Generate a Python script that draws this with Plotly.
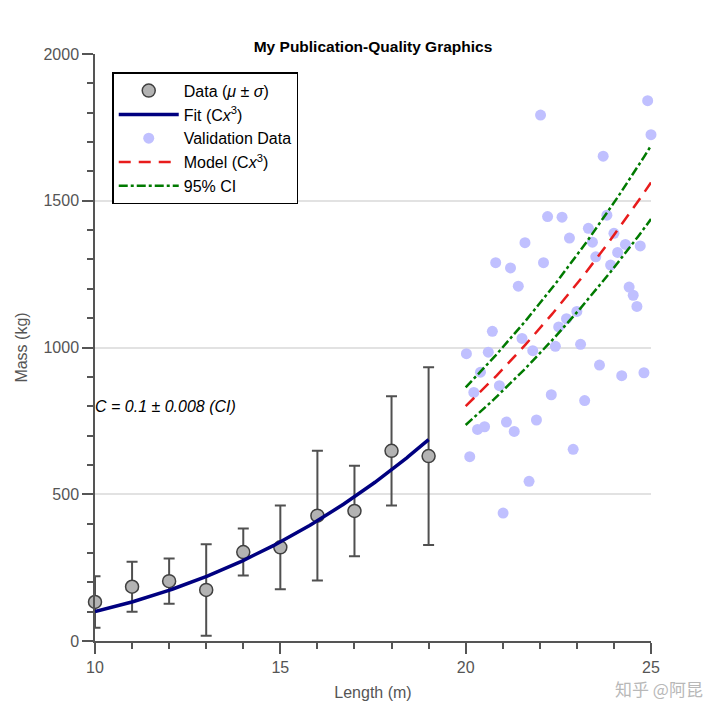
import numpy as np
import plotly.graph_objects as go

# ---- data ----
length_m = [10, 11, 12, 13, 14, 15, 16, 17, 18, 19]
mass_mean = [133, 185, 204, 174, 303, 319, 427, 443, 648, 630]
mass_sd = [88, 85, 77, 156, 80, 143, 221, 154, 186, 303]

C_fit = 0.1
C_ci = 0.008

val_x = [24.91, 22.02, 25.0, 23.71, 22.21, 22.6, 23.81, 23.31, 24.0, 22.80,
         21.60, 23.42, 24.31, 24.71, 24.10, 23.51, 20.81, 21.21, 22.10, 23.91,
         21.42, 24.41, 24.52, 24.62, 23.0, 22.72, 22.51, 20.72, 21.52, 21.81,
         22.42, 23.10, 20.02, 20.61, 23.61, 24.21, 24.81, 20.40, 20.22, 20.91,
         22.31, 23.21, 20.32, 20.51, 21.10, 21.91, 21.31, 22.90, 20.11, 21.71,
         21.01]
val_y = [1841, 1792, 1725, 1652, 1446, 1444, 1451, 1406, 1389, 1373,
         1357, 1359, 1351, 1346, 1324, 1309, 1289, 1271, 1289, 1281,
         1209, 1206, 1178, 1140, 1123, 1098, 1070, 1055, 1031, 989,
         1004, 1011, 979, 984, 940, 904, 914, 916, 847, 870,
         839, 819, 721, 730, 746, 753, 714, 653, 628, 544,
         436]

fit_range = (10, 19)
model_range = (20, 25)

x_ticks = [10, 15, 20, 25]
y_ticks = [0, 500, 1000, 1500, 2000]

title_text = "My Publication-Quality Graphics"
x_title = "Length (m)"
y_title = "Mass (kg)"
annot_text = "C = 0.1 ± 0.008 (CI)"
watermark = "知乎 @阿昆"

# ---- curves ----
xf = np.linspace(fit_range[0], fit_range[1], 200)
xm = np.linspace(model_range[0], model_range[1], 200)

FONT = "Liberation Sans, Arial, Helvetica, sans-serif"
AX = "#555555"

fig = go.Figure()

fig.add_trace(go.Scatter(
    x=length_m, y=mass_mean, mode="markers",
    name="Data (<i>μ</i> ± <i>σ</i>)",
    marker=dict(size=13, color="#b3b3b3", line=dict(color="#404040", width=1.5)),
    error_y=dict(type="data", array=mass_sd, visible=True,
                 color="#505050", thickness=2, width=5.5),
    cliponaxis=False,
))
fig.add_trace(go.Scatter(
    x=xf, y=C_fit * xf ** 3, mode="lines", name="Fit (C<i>x</i><sup>3</sup>)",
    line=dict(color="#000080", width=3.5),
))
fig.add_trace(go.Scatter(
    x=val_x, y=val_y, mode="markers", name="Validation Data",
    marker=dict(size=11, color="#c0c0ff"), cliponaxis=False,
))
fig.add_trace(go.Scatter(
    x=xm, y=C_fit * xm ** 3, mode="lines", name="Model (C<i>x</i><sup>3</sup>)",
    line=dict(color="#e81c1c", width=2.5, dash="12px,8px"),
))
fig.add_trace(go.Scatter(
    x=xm, y=(C_fit + C_ci) * xm ** 3, mode="lines", name="95% CI",
    line=dict(color="#007a00", width=2.5, dash="9px,3px,3px,3px"),
    legendgroup="ci",
))
fig.add_trace(go.Scatter(
    x=xm, y=(C_fit - C_ci) * xm ** 3, mode="lines", name="95% CI",
    line=dict(color="#007a00", width=2.5, dash="9px,3px,3px,3px"),
    legendgroup="ci", showlegend=False,
))

fig.add_annotation(
    x=fit_range[0], y=800, xref="x", yref="y", text=f"<i>{annot_text}</i>",
    showarrow=False, xanchor="left", yanchor="middle", xshift=-2,
    font=dict(family=FONT, size=16, color="black"),
)
fig.add_annotation(
    x=1.0, y=0, xref="paper", yref="paper", text=watermark,
    showarrow=False, xanchor="right", yanchor="middle", xshift=54, yshift=-47,
    font=dict(family="Noto Sans CJK SC", size=17, color="#b8b8b8"),
)

fig.update_layout(
    width=712, height=712,
    margin=dict(l=85, r=69, t=46, b=79),
    paper_bgcolor="white", plot_bgcolor="white",
    font=dict(family=FONT, size=16, color=AX),
    title=dict(text=f"<b>{title_text}</b>", x=0.5, xref="paper", y=1, yref="paper",
               yanchor="bottom", pad=dict(b=2),
               font=dict(family=FONT, size=15.5, color="black")),
    showlegend=True,
    legend=dict(x=0.031, y=0.969, xanchor="left", yanchor="top",
                bgcolor="white", bordercolor="black", borderwidth=1.5,
                font=dict(family=FONT, size=16, color="black"),
                itemwidth=60, tracegroupgap=0),
)

fig.update_xaxes(
    range=[10, 25], tickvals=x_ticks, showgrid=False, zeroline=False,
    showline=True, linecolor=AX, linewidth=1.5,
    ticks="outside", ticklen=11, tickwidth=1.5, tickcolor=AX,
    minor=dict(dtick=1, ticks="outside", ticklen=6, tickwidth=1.5, tickcolor=AX, showgrid=False),
    tickfont=dict(size=16, color=AX),
    title=dict(text=x_title, font=dict(size=16, color=AX), standoff=12),
)
fig.update_yaxes(
    range=[0, 2000], tickvals=y_ticks, showgrid=True, gridcolor="#e2e2e2", gridwidth=1.5,
    zeroline=False, showline=True, linecolor=AX, linewidth=1.5,
    ticks="outside", ticklen=11, tickwidth=1.5, tickcolor=AX,
    minor=dict(dtick=100, ticks="outside", ticklen=6, tickwidth=1.5, tickcolor=AX, showgrid=False),
    tickfont=dict(size=16, color=AX),
    title=dict(text=y_title, font=dict(size=16, color=AX), standoff=12),
)

fig.write_html("out.html")
